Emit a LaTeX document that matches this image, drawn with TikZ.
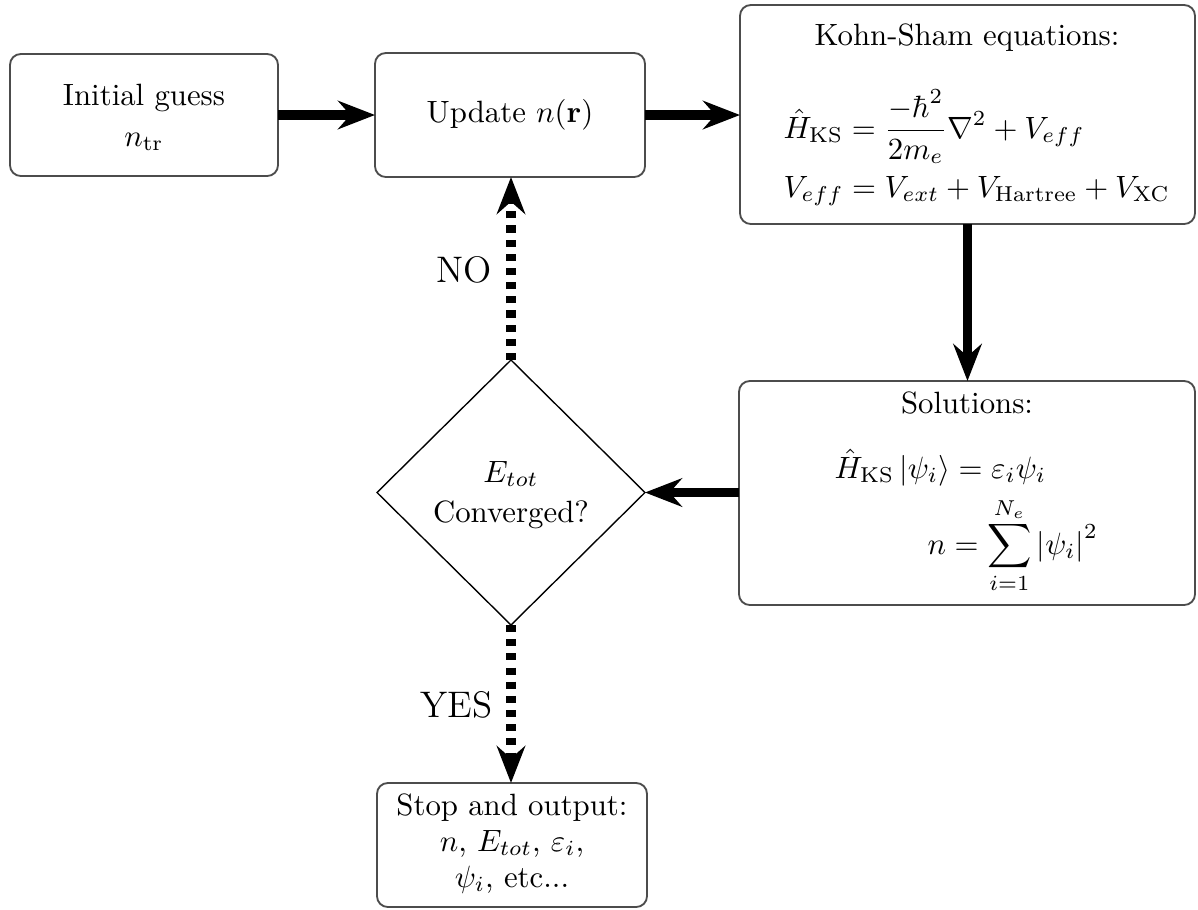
\documentclass[tikz,border=0pt]{standalone}
\usetikzlibrary{arrows.meta,shapes.geometric}
\def\u{0.3247pt}
\tikzset{
  box/.style={draw=black!70, line width=0.6pt, rounded corners=3.5pt, inner sep=0pt, outer sep=0pt},
  dia/.style={draw=black, line width=0.45pt, diamond, inner sep=0pt, outer sep=0pt},
  txt/.style={anchor=base, inner sep=0pt},
  arr/.style={line width=3.2pt, -{Stealth[length=12pt,width=9.2pt,inset=4pt]}},
  dsh/.style={dash pattern=on 2.3pt off 2.3pt},
}
\begin{document}
\begin{tikzpicture}[x=\u, y=-\u]
\useasboundingbox (0,0) rectangle (1198,909);
% boxes
\node[box, minimum width=268*\u, minimum height=122*\u] (init) at (144,115) {};
\node[box, minimum width=270*\u, minimum height=124*\u] (update) at (510,115) {};
\node[box, minimum width=455*\u, minimum height=219*\u] (ks) at (967.5,114.5) {};
\node[box, minimum width=456*\u, minimum height=224*\u] (sol) at (967,493) {};
\node[dia, minimum width=268*\u, minimum height=265*\u] (conv) at (511,492.5) {};
\node[box, minimum width=270*\u, minimum height=124*\u] (stop) at (512,845) {};
% texts
\node[txt] (t1) at (144,105) {Initial guess};
\node[txt] (t2) at (144,146) {$n_{\mathrm{tr}}$};
\node[txt] (t3) at (510,122) {Update $n(\mathbf{r})$};
\node[txt] (t4) at (967,45) {Kohn-Sham equations:};
\node[txt, anchor=base west] (t5) at (783,138) {$\hat{H}_{\mathrm{KS}} = \displaystyle\frac{-\hbar^2}{2m_e}\nabla^2 + V_{eff}$};
\node[txt, anchor=base west] (t6) at (783,197) {$V_{eff} = V_{ext} + V_{\mathrm{Hartree}} + V_{\mathrm{XC}}$};
\node[txt] (t7) at (967,413) {Solutions:};
\node[txt, anchor=base west] (t8) at (834,478) {$\hat{H}_{\mathrm{KS}}\left|\psi_i\right\rangle = \varepsilon_i\psi_i$};
\node[txt, anchor=base west] (t9) at (927,554) {$\displaystyle n = \sum_{i=1}^{N_e}\left|\psi_i\right|^2$};
\node[txt] (t10) at (511,482) {$E_{tot}$};
\node[txt] (t11) at (511,522) {Converged?};
\node[txt] (t12) at (512,815) {Stop and output:};
\node[txt] (t13) at (512,851) {$n$, $E_{tot}$, $\varepsilon_i$,};
\node[txt] (t14) at (512,887) {$\psi_i$, etc...};
\node[txt, anchor=base east, font=\large] (no) at (492,282) {NO};
\node[txt, anchor=base east, font=\large] (yes) at (493,717) {YES};
% arrows
\draw[arr] (init.east) -- (update.west);
\draw[arr] (update.east) -- (ks.west |- update.east);
\draw[arr] (ks.south) -- (ks.south |- sol.north);
\draw[arr] (sol.west |- conv.east) -- (conv.east);
\draw[arr, dsh] (conv.north) -- (conv.north |- update.south);
\draw[arr, dsh] (conv.south) -- (conv.south |- stop.north);
\end{tikzpicture}
\end{document}
